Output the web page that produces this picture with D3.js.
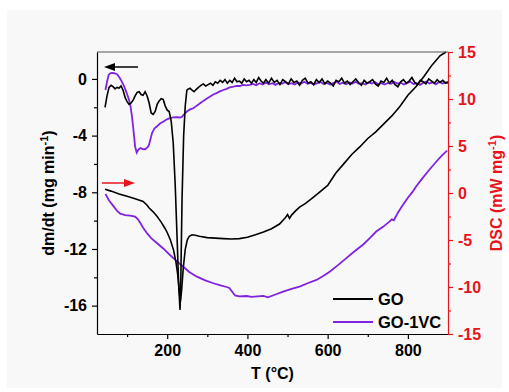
<!DOCTYPE html>
<html><head><meta charset="utf-8">
<script src="https://cdn.jsdelivr.net/npm/d3@7"></script>
<style>body{margin:0;background:#fff}svg{display:block}text{font-family:"Liberation Sans",Arial,sans-serif;font-weight:bold}</style>
</head><body><svg id="c" width="509" height="392"></svg>
<script>
// ---- data ----
const xTicks = [200, 400, 600, 800];
const xMinor = [100, 300, 500, 700];
const leftTicks = [0, -4, -8, -12, -16];
const leftMinor = [-2, -6, -10, -14];
const rightTicks = [15, 10, 5, 0, -5, -10, -15];
const rightMinor = [12.5, 7.5, 2.5, -2.5, -7.5, -12.5];
const seriesNames = ["GO", "GO-1VC"];

// DTG (left axis, mg/min) – GO
const dtgGO = [[45,-2.0],[50,-1.2],[55,-0.6],[60,-0.45],[65,-0.55],[70,-0.7],[75,-0.6],[80,-0.65],[85,-0.5],[90,-0.8],[95,-1.3],[100,-1.6],[105,-1.8],[110,-1.7],[115,-1.5],[120,-1.2],[125,-0.95],[130,-0.9],[135,-1.1],[140,-1.15],[145,-0.9],[150,-1.2],[155,-1.7],[160,-2.4],[165,-2.5],[170,-2.3],[175,-1.8],[180,-1.55],[185,-1.4],[190,-1.45],[195,-1.9],[200,-2.2],[205,-2.3],[210,-3.0],[215,-4.5],[220,-7.5],[225,-11.5],[229,-14.8],[232,-16.3],[234,-14.0],[237,-8.5],[241,-4.0],[245,-1.9],[249,-0.8],[253,-0.7],[257,-0.65],[262,-0.8],[267,-0.9],[272,-0.75],[278,-0.6],[284,-0.45],[290,-0.35],[296,-0.5],[302,-0.4],[308,-0.3],[314,-0.45],[320,-0.2],[326,-0.3],[332,-0.1],[338,-0.25],[344,-0.05],[350,-0.3],[356,-0.1],[362,-0.25],[368,0.05],[374,-0.2],[380,-0.15],[386,-0.3],[392,0.0],[398,-0.2],[404,-0.1],[410,-0.3],[416,-0.05],[422,-0.25],[428,0.1],[434,-0.15],[440,-0.3],[446,-0.05],
[453,-0.3],[460,0.05],[467,-0.25],[474,-0.1],[481,-0.4],[488,-0.05],[495,-0.2],[502,-0.35],[509,0.0],[516,-0.25],[523,-0.15],[530,-0.45],[537,-0.1],[544,0.05],[551,-0.3],[558,-0.2],[565,-0.4],[572,-0.05],[579,-0.25],[586,0.0],[593,-0.35],[600,-0.15],[607,-0.3],[614,-0.5],[621,-0.1],[628,-0.2],[635,0.05],[642,-0.3],[649,-0.15],[656,-0.4],[663,-0.2],[670,0.0],[677,-0.25],[684,-0.45],[691,-0.1],[698,-0.3],[705,-0.2],[712,-0.05],[719,-0.35],[726,-0.5],[733,-0.15],[740,-0.25],[747,0.05],[754,-0.3],[761,-0.1],[768,-0.4],[775,-0.55],[782,-0.2],[789,-0.05],[796,-0.3],[803,-0.15],[810,0.1],[817,-0.25],[824,-0.4],[831,-0.1],[838,-0.2],[845,-0.35],[852,0.0],[859,-0.15],[866,-0.3],[873,-0.05],[880,-0.25],[887,-0.1],[894,-0.3],[900,-0.2]];

// DTG (left axis) – GO-1VC
const dtgVC = [[46,-0.78],[50,-0.2],[54,0.28],[58,0.4],[62,0.42],[68,0.4],[75,0.33],[81,0.1],[87,-0.19],[93,-0.55],[99,-1.0],[104,-1.4],[108,-1.83],[112,-2.6],[115,-3.36],[118,-4.2],[120,-4.77],[124,-5.2],[128,-5.0],[133,-4.88],[139,-4.95],[145,-4.96],[150,-4.85],[154,-4.7],[158,-4.3],[162,-3.83],[168,-3.5],[174,-3.36],[182,-3.15],[191,-3.0],[199,-2.85],[207,-2.77],[215,-2.72],[224,-2.7],[230,-2.72],[236,-2.7],[242,-2.5],[249,-2.3],[257,-2.15],[265,-2.07],[273,-1.9],[282,-1.71],[290,-1.55],[298,-1.4],[307,-1.24],[315,-1.1],[323,-1.0],[331,-0.88],[340,-0.78],[348,-0.7],[356,-0.6],[365,-0.55],[373,-0.49],[381,-0.5],[389,-0.42],[397,-0.45],[406,-0.42],
[414,-0.35],[422,-0.45],[430,-0.3],[438,-0.4],[446,-0.25],[454,-0.38],[462,-0.3],[470,-0.42],[478,-0.28],[486,-0.35],[494,-0.22],[502,-0.38],[510,-0.3],[518,-0.4],[526,-0.25],[534,-0.33],[542,-0.2],[550,-0.35],[558,-0.28],[566,-0.4],[574,-0.3],[582,-0.22],[590,-0.36],[598,-0.28],[606,-0.4],[614,-0.3],[622,-0.2],[630,-0.35],[638,-0.27],[646,-0.38],[654,-0.25],[662,-0.32],[670,-0.2],[678,-0.35],[686,-0.3],[694,-0.4],[702,-0.25],[710,-0.33],[718,-0.22],[726,-0.38],[734,-0.3],[742,-0.4],[750,-0.28],[758,-0.35],[766,-0.22],[774,-0.33],[782,-0.27],[790,-0.4],[798,-0.3],[806,-0.2],[814,-0.36],[822,-0.3],[830,-0.42],[838,-0.28],[846,-0.18],[854,-0.32],[862,-0.25],[870,-0.38],[878,-0.2],[886,-0.33],[894,-0.25],[900,-0.3]];

// DSC (right axis, mW/mg) – GO
const dscGO = [[45,0.4],[60,0.2],[80,-0.1],[100,-0.35],[120,-0.6],[140,-0.9],[150,-1.3],[155,-1.6],[165,-2.0],[175,-2.5],[185,-3.1],[195,-3.8],[200,-4.2],[208,-5.0],[216,-6.1],[222,-7.4],[226,-8.6],[230,-10.4],[233,-11.6],[236,-10.3],[240,-8.0],[245,-6.0],[250,-5.0],[255,-4.6],[262,-4.45],[270,-4.5],[280,-4.6],[300,-4.75],[320,-4.8],[340,-4.85],[360,-4.9],[380,-4.85],[400,-4.7],[420,-4.45],[440,-4.15],[460,-3.8],[480,-3.3],[495,-2.6],[500,-2.3],[505,-2.7],[510,-2.35],[520,-1.9],[530,-1.5],[545,-1.1],[560,-0.6],[580,0.1],[600,0.8],[620,2.1],[640,3.1],[660,4.1],[680,4.9],[700,5.8],[720,6.5],[740,7.35],[760,8.2],[780,9.2],[800,10.4],[820,11.3],[840,12.4],[860,13.6],[880,14.6],[895,15.0]];

// DSC (right axis) – GO-1VC
const dscVC = [[46,-0.1],[55,-0.8],[67,-1.45],[75,-1.9],[83,-2.2],[95,-2.35],[108,-2.4],[120,-2.5],[127,-2.8],[133,-3.2],[140,-3.7],[150,-4.3],[160,-4.8],[175,-5.35],[190,-5.9],[207,-6.6],[225,-7.3],[240,-7.85],[255,-8.4],[274,-8.9],[295,-9.3],[315,-9.6],[335,-9.85],[348,-10.0],[355,-10.1],[362,-10.5],[369,-10.9],[380,-11.0],[398,-10.96],[410,-11.05],[425,-11.0],[440,-10.95],[451,-11.1],[470,-10.8],[489,-10.5],[510,-10.2],[530,-9.96],[550,-9.6],[572,-9.25],[590,-8.8],[605,-8.37],[625,-7.7],[646,-6.95],[667,-6.2],[688,-5.5],[705,-4.8],[721,-4.1],[738,-3.6],[754,-3.05],[760,-2.8],[765,-2.9],[775,-2.1],[787,-1.3],[800,-0.5],[812,0.14],[820,0.67],[835,1.5],[853,2.45],[870,3.3],[885,4.0],[898,4.5]];

// ---- drawing ----
const svg = d3.select("#c");
const L = 97, R = 448, T = 52, B = 334;
const RED = "#e8141b", PURPLE = "#8022e0";
const x = d3.scaleLinear().domain([25, 900]).range([L, R]);
const yL = d3.scaleLinear().domain([-18, 1.9]).range([B, T]);
const yR = d3.scaleLinear().domain([-15, 15]).range([B, T]);

svg.append("rect").attr("x",7).attr("y",10).attr("width",495).attr("height",378).attr("fill","#f8f8f8");

svg.append("clipPath").attr("id","pc").append("rect").attr("x",L).attr("y",T-1).attr("width",R-L).attr("height",B-T+1);

const lineL = d3.line().x(d=>x(d[0])).y(d=>yL(d[1]));
const lineR = d3.line().x(d=>x(d[0])).y(d=>yR(d[1]));
const g = svg.append("g").attr("clip-path","url(#pc)");
g.append("path").datum(dscVC).attr("d",lineR).attr("fill","none").attr("stroke",PURPLE).attr("stroke-width",1.8);
g.append("path").datum(dtgVC).attr("d",lineL).attr("fill","none").attr("stroke",PURPLE).attr("stroke-width",1.8);
g.append("path").datum(dscGO).attr("d",lineR).attr("fill","none").attr("stroke","#000").attr("stroke-width",1.6);
g.append("path").datum(dtgGO).attr("d",lineL).attr("fill","none").attr("stroke","#000").attr("stroke-width",1.6);

// top frame
svg.append("line").attr("x1",L).attr("x2",R).attr("y1",T).attr("y2",T).attr("stroke","#555").attr("stroke-width",1.2);

function styleAxis(sel, color){
  sel.select(".domain").attr("stroke",color).attr("stroke-width",1.2);
  sel.selectAll(".tick line").attr("stroke",color).attr("stroke-width",1.2);
  sel.selectAll(".tick text").attr("fill",color).style("font-size","16px").style("font-weight","bold").style("font-family","Liberation Sans, Arial, sans-serif");
}
// x axis
const gx = svg.append("g").attr("transform",`translate(0,${B})`).call(d3.axisBottom(x).tickValues(xTicks).tickSize(5).tickSizeOuter(0).tickPadding(6));
styleAxis(gx,"#000");
svg.append("g").attr("transform",`translate(0,${B})`).call(d3.axisBottom(x).tickValues(xMinor).tickSize(3).tickFormat("")).call(s=>{s.select(".domain").remove();s.selectAll("line").attr("stroke","#000").attr("stroke-width",1.2);});
// left axis
const gl = svg.append("g").attr("transform",`translate(${L},0)`).call(d3.axisLeft(yL).tickValues(leftTicks).tickSize(5).tickSizeOuter(0).tickPadding(5).tickFormat(d=>d));
styleAxis(gl,"#000");
svg.append("g").attr("transform",`translate(${L},0)`).call(d3.axisLeft(yL).tickValues(leftMinor).tickSize(3).tickFormat("")).call(s=>{s.select(".domain").remove();s.selectAll("line").attr("stroke","#000").attr("stroke-width",1.2);});
// right axis
const gr = svg.append("g").attr("transform",`translate(${R},0)`).call(d3.axisRight(yR).tickValues(rightTicks).tickSize(5).tickSizeOuter(0).tickPadding(5).tickFormat(d=>d));
styleAxis(gr,RED);
svg.append("g").attr("transform",`translate(${R},0)`).call(d3.axisRight(yR).tickValues(rightMinor).tickSize(3).tickFormat("")).call(s=>{s.select(".domain").remove();s.selectAll("line").attr("stroke",RED).attr("stroke-width",1.2);});

// axis titles
svg.append("text").attr("x",(L+R)/2).attr("y",379).attr("text-anchor","middle").style("font-size","16px").text("T (°C)");
const lt = svg.append("text").attr("transform",`translate(54,${(T+B)/2}) rotate(-90)`).attr("text-anchor","middle").style("font-size","16px");
lt.append("tspan").text("dm/dt (mg min");
lt.append("tspan").attr("dy",-6).style("font-size","11px").text("-1");
lt.append("tspan").attr("dy",6).text(")");
const rt = svg.append("text").attr("transform",`translate(502,${(T+B)/2}) rotate(-90)`).attr("text-anchor","middle").attr("fill",RED).style("font-size","16px");
rt.append("tspan").text("DSC (mW mg");
rt.append("tspan").attr("dy",-6).style("font-size","11px").text("-1");
rt.append("tspan").attr("dy",6).text(")");

// legend
const leg = [{n:seriesNames[0],c:"#000",y:299},{n:seriesNames[1],c:PURPLE,y:322}];
leg.forEach(l=>{
  svg.append("line").attr("x1",333).attr("x2",373).attr("y1",l.y).attr("y2",l.y).attr("stroke",l.c).attr("stroke-width",1.8);
  svg.append("text").attr("x",378).attr("y",l.y+6).style("font-size","16.5px").text(l.n);
});

// arrows
svg.append("line").attr("x1",112).attr("x2",138).attr("y1",67).attr("y2",67).attr("stroke","#000").attr("stroke-width",1.5);
svg.append("path").attr("d","M104,67 L115,63 L115,71 Z").attr("fill","#000");
svg.append("line").attr("x1",102).attr("x2",127).attr("y1",183).attr("y2",183).attr("stroke",RED).attr("stroke-width",1.5);
svg.append("path").attr("d","M135,183 L124,179 L124,187 Z").attr("fill",RED);
</script></body></html>
